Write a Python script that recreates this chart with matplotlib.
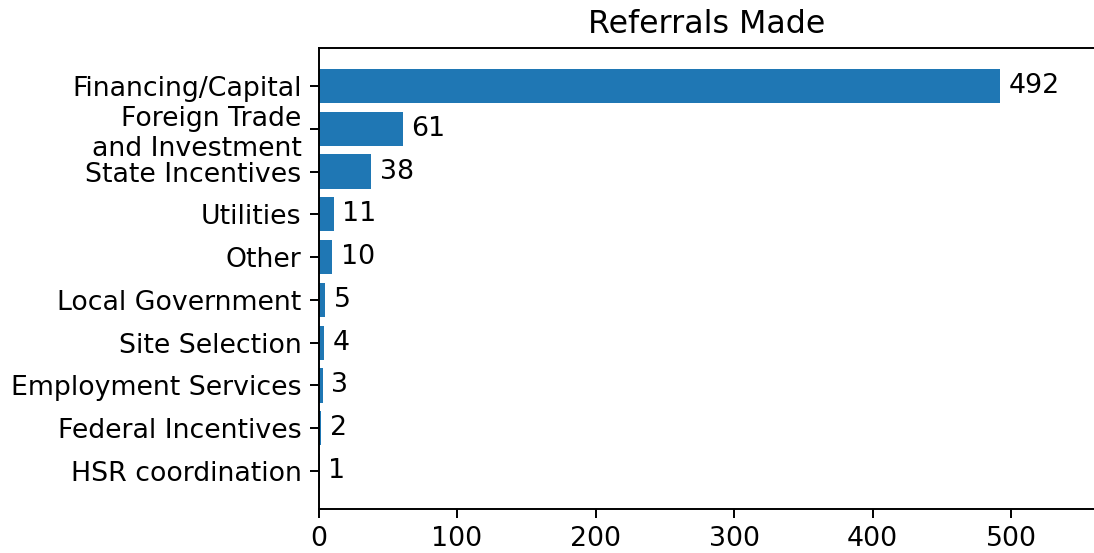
import matplotlib
matplotlib.use("Agg")
import matplotlib.pyplot as plt

categories = ["Financing/Capital", "Foreign Trade\nand Investment", "State Incentives",
              "Utilities", "Other", "Local Government", "Site Selection",
              "Employment Services", "Federal Incentives", "HSR coordination"]
counts = [492, 61, 38, 11, 10, 5, 4, 3, 2, 1]

DPI = 175
fig = plt.figure(figsize=(1094/DPI, 553/DPI), dpi=DPI)
# right spine falls just past the canvas edge, as in the reference
ax = fig.add_axes([318.5/1094, 1 - 509/553, (1095.5 - 318.5)/1094, (509 - 48)/553])

bars = ax.barh(categories, counts, color="#1f77b4")
ax.invert_yaxis()
ax.bar_label(bars, padding=3.5, fontsize=11)
ax.set_xlim(0, 561)
ax.set_title("Referrals Made", fontsize=13)
ax.tick_params(labelsize=11)

fig.savefig("out.png", dpi=DPI)
